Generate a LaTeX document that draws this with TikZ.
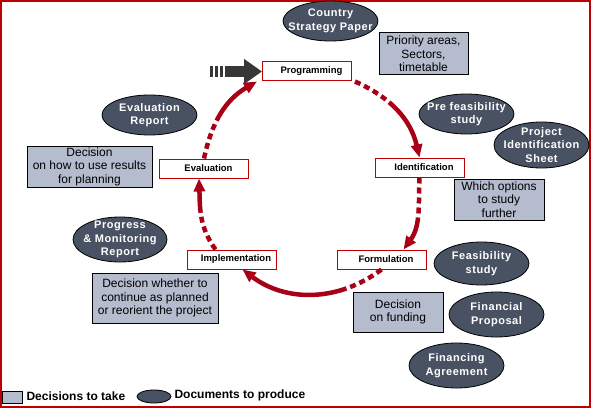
\documentclass[tikz,border=0pt]{standalone}
\usepackage{fontspec}
\setmainfont{Liberation Sans}
\newfontfamily\docfont[LetterSpace=5]{Liberation Sans}
\usetikzlibrary{arrows.meta,shapes.geometric}
\definecolor{framered}{RGB}{192,0,0}
\definecolor{cyclered}{RGB}{168,0,22}
\definecolor{docfill}{RGB}{72,82,98}
\definecolor{decfill}{RGB}{180,188,206}
\definecolor{feedgray}{RGB}{55,55,55}

\begin{document}
\begin{tikzpicture}[x=1pt,y=1pt,
    every node/.style={font=\fontsize{12}{13.5}\selectfont},
    stage/.style={draw=framered, line width=1pt, fill=white, minimum width=89pt, minimum height=19pt, inner sep=0pt, font=\fontsize{9.5}{11}\selectfont\bfseries, execute at begin node=\hspace*{9pt}},
    decision/.style={draw=black, line width=1pt, fill=decfill, align=center, inner sep=0pt},
    document/.style={ellipse, draw=black, line width=0.8pt, fill=docfill, text=white, align=center, inner xsep=-14pt, inner ysep=-8pt, font=\docfont\fontsize{11}{13.5}\selectfont\bfseries},
    cyc/.style={draw=cyclered, line width=4.5pt, dash pattern=on 6pt off 4pt on 6pt off 4pt on 6pt off 4pt on 6pt off 4pt on 400pt off 1pt, -{Triangle[length=13pt,width=11pt]}},
    feed/.style={draw=feedgray, line width=11pt, dash pattern=on 3pt off 2pt on 3pt off 2pt on 3pt off 2pt on 200pt off 1pt, -{Triangle[length=18pt,width=24pt]}}]
    \useasboundingbox (0,0) rectangle (592,408);
    \draw[framered, line width=2pt] (1,1) rectangle (590,407);

    \node[stage] (prog) at (307,336.5) {Programming};
    \node[stage] (ident) at (419.5,240.5) {Identification};
    \node[stage] (form) at (381.5,148.5) {Formulation};
    \node[stage] (impl) at (231.5,148.5) {Implementation};
    \node[stage] (eval) at (204,239.5) {Evaluation};

    \node[document, minimum width=95pt, minimum height=40pt] (csp) at (330.5,387) {Country\\Strategy Paper};
    \node[document, minimum width=95pt, minimum height=40pt] (prefeas) at (466.5,294) {Pre feasibility\\study};
    \node[document, minimum width=95pt, minimum height=46pt] (pis) at (541.5,263) {Project\\Identification\\Sheet};
    \node[document, minimum width=95pt, minimum height=43pt] (feas) at (481.5,144.5) {Feasibility\\study};
    \node[document, minimum width=95pt, minimum height=45pt] (finprop) at (496.5,93.5) {Financial\\Proposal};
    \node[document, minimum width=95pt, minimum height=45pt] (finagr) at (456.5,42.5) {Financing\\Agreement};
    \node[document, minimum width=94pt, minimum height=45pt] (pmr) at (120,168.5) {Progress\\\& Monitoring\\Report};
    \node[document, minimum width=95pt, minimum height=40pt] (evrep) at (149.5,293) {Evaluation\\Report};

    \node[decision, minimum width=89pt, minimum height=42pt] (prio) at (423.5,354) {Priority areas,\\Sectors,\\timetable};
    \node[decision, minimum width=90pt, minimum height=41pt] (options) at (499,208.5) {Which options\\to study\\further};
    \node[decision, minimum width=90pt, minimum height=40pt] (funding) at (398,96) {Decision\\on funding};
    \node[decision, minimum width=126pt, minimum height=50pt] (reorient) at (155,110) {Decision whether to\\continue as planned\\or reorient the project};
    \node[decision, minimum width=125pt, minimum height=41pt] (useplan) at (89.5,241.5) {Decision\\on how to use results\\for planning};

    \coordinate (feedstart) at (210,336.5);
    \draw[feed] (feedstart) -- (prog.west);
    \draw[cyc] ([xshift=3pt]prog.south east) to[out=-24,in=103] (ident.north);
    \draw[cyc] (ident.south) to[out=-92,in=54] ([xshift=22pt]form.north);
    \draw[cyc] (form.south) to[out=-143,in=-37] ([xshift=11pt]impl.south);
    \draw[cyc] ([xshift=-16pt]impl.north) to[out=126,in=-88] ([xshift=-5pt]eval.south);
    \draw[cyc] (eval.north) to[out=78,in=-150] ([xshift=-5pt]prog.south west);

    \node[decision, minimum width=20pt, minimum height=12pt] (legdec) at (12,11) {};
    \node[anchor=west, font=\fontsize{12}{13}\selectfont\bfseries] (legdectext) at (23,12) {Decisions to take};
    \node[ellipse, draw=black, line width=0.8pt, fill=docfill, minimum width=34pt, minimum height=13pt, inner sep=0pt] (legdoc) at (154,11.5) {};
    \node[anchor=west, font=\fontsize{12}{13}\selectfont\bfseries] (legdoctext) at (171,13) {Documents to produce};
\end{tikzpicture}
\end{document}
